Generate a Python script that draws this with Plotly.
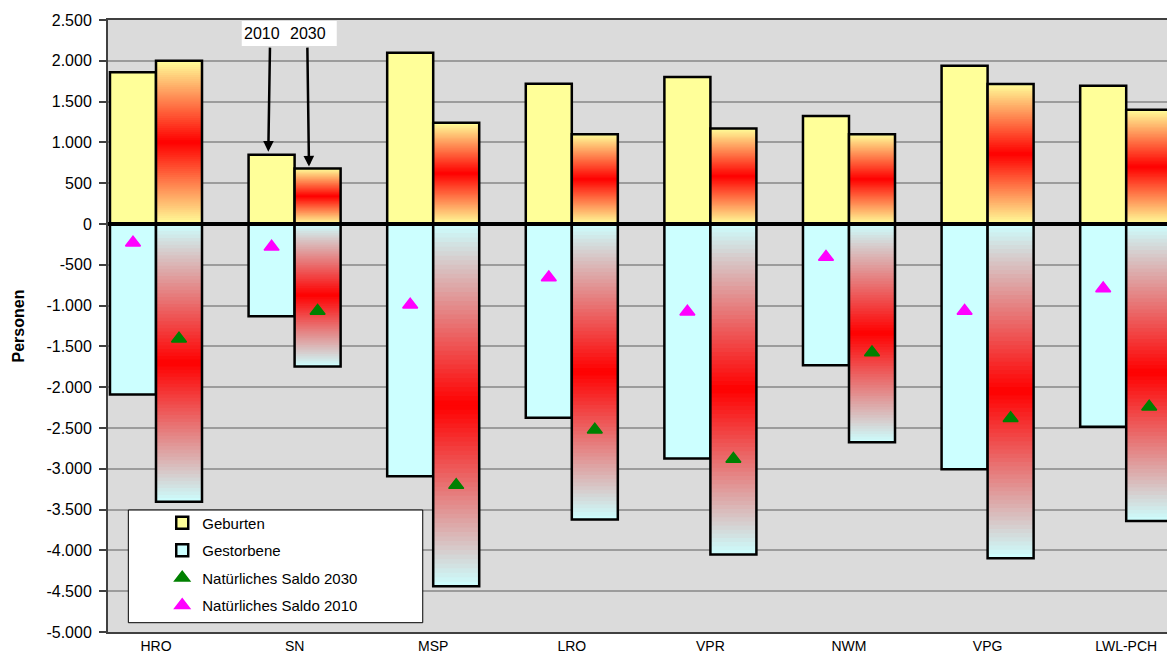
import plotly.graph_objects as go

# --- data ---------------------------------------------------------------
categories = ["HRO", "SN", "MSP", "LRO", "VPR", "NWM", "VPG", "LWL-PCH"]

geburten_2010 = [1860, 850, 2100, 1720, 1800, 1325, 1940, 1695]
geburten_2030 = [2000, 680, 1240, 1100, 1170, 1100, 1715, 1400]
gestorbene_2010 = [-2090, -1130, -3090, -2375, -2875, -1730, -3005, -2485]
gestorbene_2030 = [-3405, -1745, -4440, -3620, -4050, -2675, -4095, -3640]
saldo_2010 = [-230, -280, -990, -655, -1075, -405, -1065, -790]
saldo_2030 = [-1405, -1065, -3200, -2520, -2880, -1575, -2380, -2240]

y_ticks = list(range(-5000, 2501, 500))
y_ticktext = [f"{v:,}".replace(",", ".") for v in y_ticks]

# --- styling ------------------------------------------------------------
FONT = "Liberation Sans, Arial, sans-serif"
YELLOW = (255, 255, 153)
CYAN = (204, 255, 255)
RED = (255, 0, 0)
BAR_W = 0.332
N_SLICES = 80

xpos = list(range(len(categories)))


def mix(c0, c1, w):
    return "rgb({},{},{})".format(*[round(a + (b - a) * w) for a, b in zip(c0, c1)])


def gradient_slices(values, edge):
    """Layer bars from slice k to the bar end, so each one only shows one band.

    Red in the middle of the bar, edge colour at both ends; every layer is
    drawn on top of the previous one, which avoids seams between the bands.
    """
    xs, bases, heights, colors = [], [], [], []
    for x, v in zip(xpos, values):
        h = v / N_SLICES
        for k in range(N_SLICES):
            t = (k + 0.5) / N_SLICES
            w = 1 - abs(2 * t - 1)
            xs.append(x)
            bases.append(k * h)
            heights.append(v - k * h)
            colors.append(mix(edge, RED, w))
    return xs, bases, heights, colors


fig = go.Figure()

# 2010 bars (solid fills)
fig.add_trace(go.Bar(
    x=xpos, y=geburten_2010, width=BAR_W, offset=-BAR_W,
    marker=dict(color="rgb(255,255,153)", line=dict(color="black", width=2.5)),
    name="Geburten", legendgroup="g1", legendrank=1, hoverinfo="skip",
))
fig.add_trace(go.Bar(
    x=xpos, y=gestorbene_2010, width=BAR_W, offset=-BAR_W,
    marker=dict(color="rgb(204,255,255)", line=dict(color="black", width=2.5)),
    name="Gestorbene", legendgroup="g2", legendrank=2, hoverinfo="skip",
))

# 2030 bars: gradient bodies
for values, edge in ((geburten_2030, YELLOW), (gestorbene_2030, CYAN)):
    xs, bases, heights, colors = gradient_slices(values, edge)
    fig.add_trace(go.Bar(
        x=xs, y=heights, base=bases, width=BAR_W, offset=0,
        marker=dict(color=colors, line=dict(width=0)),
        showlegend=False, hoverinfo="skip",
    ))

# 2030 bars: outlines
for values in (geburten_2030, gestorbene_2030):
    fig.add_trace(go.Bar(
        x=xpos, y=values, width=BAR_W, offset=0,
        marker=dict(color="rgba(0,0,0,0)", line=dict(color="black", width=2.5)),
        showlegend=False, hoverinfo="skip",
    ))

# natural balance markers
fig.add_trace(go.Scatter(
    x=[x + BAR_W / 2 for x in xpos], y=saldo_2030, mode="markers",
    marker=dict(symbol="triangle-up", size=13, color="#008000",
                line=dict(color="#008000", width=1.5)),
    name="Natürliches Saldo 2030", legendgroup="g3", legendrank=3,
))
fig.add_trace(go.Scatter(
    x=[x - BAR_W / 2 for x in xpos], y=saldo_2010, mode="markers",
    marker=dict(symbol="triangle-up", size=13, color="#FF00FF",
                line=dict(color="#FF00FF", width=1.5)),
    name="Natürliches Saldo 2010", legendgroup="g4", legendrank=4,
))

# --- layout -------------------------------------------------------------
fig.update_layout(
    width=1167, height=664,
    margin=dict(l=108, r=0, t=20, b=32),
    paper_bgcolor="white",
    plot_bgcolor="#DBDBDB",
    barmode="overlay",
    font=dict(family=FONT, color="black"),
    showlegend=True,
    legend=dict(
        x=0.0512, y=0.205, xanchor="left", yanchor="top",
        bgcolor="rgba(0,0,0,0)", borderwidth=0,
        font=dict(size=15, family=FONT, color="black"),
        traceorder="grouped", tracegroupgap=5,
    ),
    xaxis=dict(
        range=[-0.3463, 7.2944],
        tickmode="array", tickvals=xpos, ticktext=categories,
        tickfont=dict(size=14, family=FONT, color="black"),
        showgrid=False, zeroline=False,
        showline=True, linecolor="#404040", linewidth=2, mirror=True,
        ticks="", ticklabelstandoff=0,
    ),
    yaxis=dict(
        range=[-5000, 2500],
        tickmode="array", tickvals=y_ticks, ticktext=y_ticktext,
        tickfont=dict(size=16, family=FONT, color="black"),
        showgrid=True, gridcolor="#9C9C9C", gridwidth=1.5,
        zeroline=False,
        showline=True, linecolor="#404040", linewidth=2,
        ticks="outside", ticklen=7, tickwidth=1.5, tickcolor="#404040",
        ticklabelstandoff=4,
        title=dict(text="<b>Personen</b>", font=dict(size=16, family=FONT, color="black"),
                   standoff=18),
    ),
    shapes=[
        # zero line above the bars
        dict(type="line", xref="paper", yref="y", x0=0, x1=1, y0=0, y1=0,
             line=dict(color="black", width=4), layer="above"),
        # legend frame
        dict(type="rect", xref="paper", yref="paper",
             x0=0.0192, x1=0.2972, y0=0.0152, y1=0.1993,
             fillcolor="white", line=dict(color="black", width=1), layer="above"),
        # label box for the year callouts
        dict(type="rect", xref="paper", yref="paper",
             x0=0.1263, x1=0.2160, y0=0.9575, y1=0.9984,
             fillcolor="white", line=dict(width=0), layer="above"),
    ],
    annotations=[
        dict(text="2010", x=0.765, y=2330, xref="x", yref="y", showarrow=False,
             font=dict(size=16, family=FONT, color="black")),
        dict(text="2030", x=1.097, y=2330, xref="x", yref="y", showarrow=False,
             font=dict(size=16, family=FONT, color="black")),
        dict(text="", x=0.81, y=geburten_2010[1], xref="x", yref="y",
             ax=0.8225, ay=2180, axref="x", ayref="y", showarrow=True,
             arrowhead=2, arrowsize=0.85, arrowwidth=2.5, arrowcolor="black", standoff=3),
        dict(text="", x=1.104, y=geburten_2030[1], xref="x", yref="y",
             ax=1.092, ay=2180, axref="x", ayref="y", showarrow=True,
             arrowhead=2, arrowsize=0.85, arrowwidth=2.5, arrowcolor="black", standoff=2),
    ],
)

fig.write_html("out.html")
